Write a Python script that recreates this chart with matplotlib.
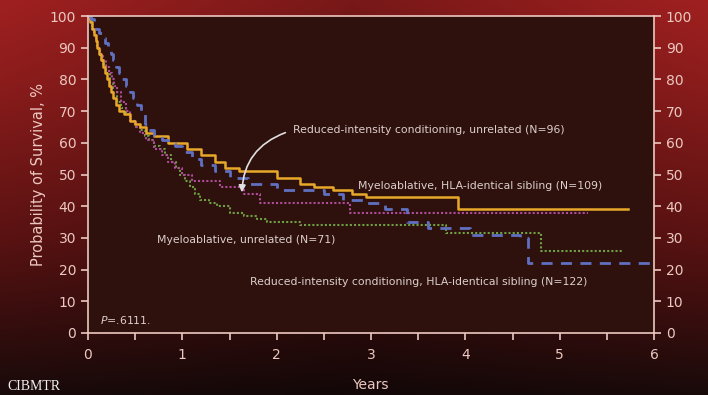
"""Kaplan-Meier survival curves, dark red slide style."""

import numpy as np
import matplotlib
matplotlib.use('Agg')
import matplotlib.pyplot as plt
from matplotlib.ticker import MultipleLocator

# =============================================================================
# Data
# =============================================================================
# Myeloablative, HLA-identical sibling (N=109)
MA_SIB_T = [0, 0.02, 0.04, 0.06, 0.08, 0.10, 0.12, 0.14, 0.16, 0.18, 0.20,
            0.22, 0.24, 0.27, 0.30, 0.33, 0.38, 0.45, 0.50, 0.55, 0.62,
            0.70, 0.85, 1.05, 1.20, 1.35, 1.45, 1.60, 2.00, 2.25, 2.40,
            2.60, 2.80, 2.95, 3.92, 5.72]
MA_SIB_S = [100, 98, 96, 94, 92, 90, 88, 86, 84, 82, 80,
            78, 76, 74, 72, 70, 69, 67, 66, 65, 63,
            62, 60, 58, 56, 54, 52, 51, 49, 47, 46,
            45, 44, 43, 39, 39]

# Reduced-intensity conditioning, HLA-identical sibling (N=122)
RIC_SIB_T = [0, 0.03, 0.06, 0.09, 0.12, 0.15, 0.18, 0.21, 0.24, 0.27, 0.30,
             0.33, 0.36, 0.40, 0.44, 0.48, 0.52, 0.56, 0.60, 0.65, 0.70,
             0.78, 0.85, 0.92, 1.00, 1.10, 1.20, 1.35, 1.50, 1.70, 2.00,
             2.50, 2.70, 2.92, 3.15, 3.38, 3.60, 4.05, 4.58, 4.66, 6.00]
RIC_SIB_S = [100, 99, 97.5, 96, 94.5, 93, 91.5, 90, 88, 86, 84,
             82, 80, 78, 76, 74, 72, 69, 66, 64, 62,
             61, 60, 59, 57, 55, 53, 51, 49, 47, 45,
             44, 42, 41, 39, 35, 33, 31, 30, 22, 22]

# Reduced-intensity conditioning, unrelated (N=96)
RIC_UNR_T = [0, 0.02, 0.04, 0.06, 0.08, 0.10, 0.13, 0.16, 0.19, 0.22, 0.25,
             0.28, 0.31, 0.35, 0.40, 0.45, 0.50, 0.55, 0.62, 0.70, 0.78,
             0.85, 0.92, 1.00, 1.10, 1.40, 1.65, 1.82, 2.78, 5.30]
RIC_UNR_S = [100, 98, 96, 94, 92, 90, 88, 86, 84, 82, 80,
             78, 76, 73, 70, 67, 65, 63, 61, 58, 56,
             54, 52, 50, 48, 46, 44, 41, 38, 38]

# Myeloablative, unrelated (N=71)
MA_UNR_T = [0, 0.02, 0.04, 0.06, 0.08, 0.10, 0.13, 0.16, 0.19, 0.23, 0.27,
            0.31, 0.35, 0.40, 0.45, 0.50, 0.55, 0.60, 0.65, 0.70, 0.76,
            0.82, 0.88, 0.93, 0.98, 1.03, 1.08, 1.13, 1.19, 1.28, 1.37,
            1.50, 1.65, 1.79, 1.90, 2.25, 3.80, 4.80, 5.66]
MA_UNR_S = [100, 98, 96, 94, 92, 90, 87, 85, 82, 79, 76,
            73, 71, 69, 67, 65, 64, 62, 61, 59, 58,
            56, 54, 52, 50, 48, 46, 44, 42, 41, 40,
            38, 37, 36, 35, 34, 31.5, 26, 26]

Y_TICKS = list(range(0, 101, 10))
X_TICKS = [0, 1, 2, 3, 4, 5, 6]

LIGHT = '#ecc8c0'
TEXTC = '#dcd0cc'

# =============================================================================
# Figure and background gradient
# =============================================================================
fig = plt.figure(figsize=(7.08, 3.95), dpi=100)

bg = fig.add_axes([0, 0, 1, 1], zorder=-10)
rows = np.linspace(0, 1, 395)
stops = [0.0, 0.2, 0.6, 1.0]
rr = np.interp(rows, stops, [160, 140, 90, 25])
gg = np.interp(rows, stops, [32, 28, 18, 10])
bb = np.interp(rows, stops, [32, 28, 18, 10])
cols = np.linspace(0, 1, 708)
shade = 1 - 0.25 * np.interp(cols, [0, 0.15, 0.5, 0.85, 1], [0, 0.3, 1, 0.3, 0])
grad = np.stack([np.outer(c, shade) for c in (rr, gg, bb)], axis=-1) / 255
bg.imshow(np.clip(grad, 0, 1), aspect='auto', extent=[0, 1, 0, 1])
bg.axis('off')

ax = fig.add_axes([88 / 708, 1 - 333 / 395, 566 / 708, 317 / 395])
ax.set_facecolor('#2e100c')

# =============================================================================
# Curves
# =============================================================================
ax.step(MA_UNR_T, MA_UNR_S, where='post', color='#6ea043', lw=1.5,
        linestyle=(0, (1, 1)))
ax.step(RIC_UNR_T, RIC_UNR_S, where='post', color='#b04c9c', lw=1.5,
        linestyle=(0, (1, 1)))
ax.step(MA_SIB_T, MA_SIB_S, where='post', color='#e8a82a', lw=1.8)
ax.step(RIC_SIB_T, RIC_SIB_S, where='post', color='#6070c0', lw=2.0,
        linestyle=(0, (4, 3)))

# =============================================================================
# Axes styling
# =============================================================================
ax.set_xlim(0, 6)
ax.set_ylim(0, 100)
ax.set_xticks(X_TICKS)
ax.xaxis.set_minor_locator(MultipleLocator(0.5))
ax.set_yticks(Y_TICKS)
for s in ax.spines.values():
    s.set_color(LIGHT)
    s.set_linewidth(1.2)
ax.tick_params(axis='both', which='both', colors=LIGHT, labelcolor=LIGHT,
               direction='out', labelsize=10, width=1.2)
ax.tick_params(axis='x', which='major', length=5, pad=6)
ax.tick_params(axis='x', which='minor', length=5)
ax.tick_params(axis='y', length=5, right=True, labelright=True)

ax.set_ylabel('Probability of Survival, %', color=LIGHT, fontsize=10.5,
              labelpad=3)
fig.text(370 / 708, 1 - 385 / 395, 'Years', color=LIGHT, fontsize=10,
         ha='center', va='center')

# =============================================================================
# Annotations
# =============================================================================
fs = 7.8
ax.text(2.17, 64, 'Reduced-intensity conditioning, unrelated (N=96)',
        color=TEXTC, fontsize=fs, va='center')
ax.text(2.86, 46.5, 'Myeloablative, HLA-identical sibling (N=109)',
        color=TEXTC, fontsize=fs, va='center')
ax.text(0.73, 29.2, 'Myeloablative, unrelated (N=71)',
        color=TEXTC, fontsize=fs, va='center')
ax.text(1.72, 16.2, 'Reduced-intensity conditioning, HLA-identical sibling (N=122)',
        color=TEXTC, fontsize=fs, va='center')
ax.text(0.13, 4, r'$P$=.6111.', color=TEXTC, fontsize=fs, va='center')
ax.annotate('', xy=(1.63, 43.5), xytext=(2.12, 63.5),
            arrowprops=dict(arrowstyle='-|>', color='#e0e0e0', lw=1.2,
                            connectionstyle='arc3,rad=0.35'))

# Logo text
fig.text(0.01, 0.005, 'CIBMTR', color='#f0f0f0', fontsize=10,
         family='Liberation Serif', ha='left', va='bottom')

fig.savefig('out.png', dpi=100)
